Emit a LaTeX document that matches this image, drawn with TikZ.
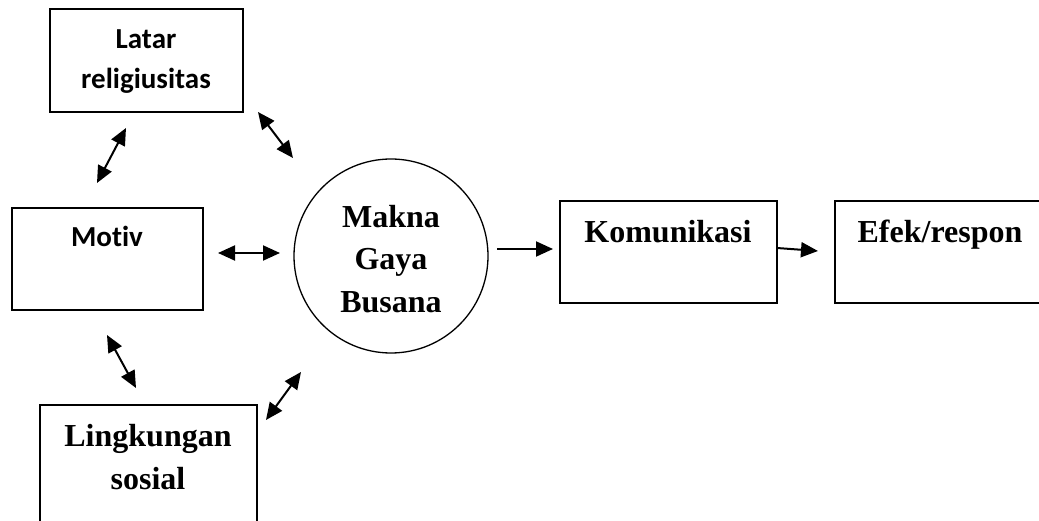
\documentclass[tikz,border=0pt]{standalone}
\usepackage{fontspec}
\setmainfont{Liberation Serif}
\newfontfamily\calibrifont[Ligatures=NoCommon]{Carlito}
\usetikzlibrary{arrows.meta,positioning}
\newcommand{\serifhead}{\bfseries\fontsize{32}{42.5}\selectfont}
\newcommand{\sanshead}{\calibrifont\bfseries\fontsize{29}{40}\selectfont}
\tikzset{
  box/.style={draw,line width=1.7pt,inner sep=0pt},
  openbox/.style={inner sep=0pt},
  txtserif/.style={font=\serifhead,align=center,inner sep=0pt},
  txtsans/.style={font=\sanshead,align=center,inner sep=0pt},
  both/.style={line width=2pt,{Triangle[length=17pt,width=15pt]}-{Triangle[length=17pt,width=15pt]}},
  one/.style={line width=2pt,-{Triangle[length=17pt,width=15pt]}}
}
\begin{document}
\begin{tikzpicture}[x=1pt,y=-1pt]
  \fill[white] (0,0) rectangle (1039,521);
  \useasboundingbox (0,0) rectangle (1039,521);
  % boxes
  \node[box,minimum width=193pt,minimum height=103pt] (latar) at (146.5,60.5) {};
  \node[box,minimum width=191pt,minimum height=102pt] (motiv) at (107.5,259) {};
  \node[openbox,minimum width=217pt,minimum height=116pt] (lingk) at (148.5,463) {};
  \draw[line width=1.7pt] (lingk.south west) |- (lingk.north east) -- (lingk.south east);
  \node[draw,circle,line width=1.3pt,minimum size=194pt,inner sep=0pt] (makna) at (391,256) {};
  \node[box,minimum width=217pt,minimum height=102pt] (komun) at (668.5,252) {};
  \node[openbox,minimum width=204pt,minimum height=102pt] (efek) at (937,252) {};
  \draw[line width=1.7pt] (efek.north east) -| (efek.south west) -- (efek.south east);
  % texts
  \node[txtsans] (latartxt) at (146,62) {Latar\\religiusitas};
  \node[txtsans,anchor=base] (motivtxt) at (107,247) {Motiv};
  \node[txtserif] (lingktxt) at (148,457) {Lingkungan\\sosial};
  \node[txtserif] (maknatxt) at (391,259) {Makna\\Gaya\\Busana};
  \node[txtserif,anchor=base] (komuntxt) at (668,243) {Komunikasi};
  \node[txtserif,anchor=base] (efektxt) at (940,243) {Efek/respon};
  % arrow ends
  \coordinate (a1) at (97,183);  \coordinate (a2) at (126,128);
  \coordinate (b1) at (258,112); \coordinate (b2) at (293,158);
  \coordinate (c1) at (218,253); \coordinate (c2) at (280,253);
  \coordinate (d1) at (107,335); \coordinate (d2) at (136,388);
  \coordinate (e1) at (266,420); \coordinate (e2) at (301,372);
  \coordinate (f1) at (497,249); \coordinate (f2) at (553,249);
  \coordinate (g1) at (777,248); \coordinate (g2) at (818,251);
  % connectors
  \draw[both] (a1) -- (a2);
  \draw[both] (b1) -- (b2);
  \draw[both] (c1) -- (c2);
  \draw[both] (d1) -- (d2);
  \draw[both] (e1) -- (e2);
  \draw[one] (f1) -- (f2);
  \draw[one] (g1) -- (g2);
\end{tikzpicture}
\end{document}
